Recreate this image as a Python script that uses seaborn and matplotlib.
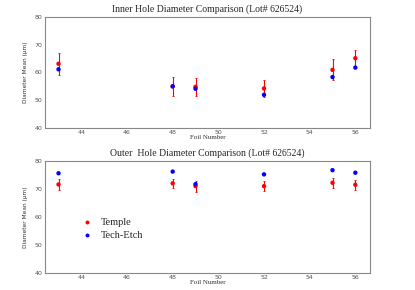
import pandas as pd
import matplotlib
matplotlib.use("Agg")
import matplotlib.pyplot as plt
from matplotlib.ticker import MultipleLocator
import seaborn as sns

# Valores
foils = [43, 48, 49, 52, 55, 56]
inner_temple = [63.1, 54.9, 54.8, 54.2, 60.9, 65.1]
inner_temple_err = [4.0, 3.4, 3.2, 3.0, 3.8, 3.0]
inner_tech = [61.1, 55.0, 54.1, 51.9, 58.3, 61.7]
outer_temple = [71.6, 72.0, 71.0, 71.0, 72.2, 71.5]
outer_temple_err = [2.1, 1.6, 2.0, 1.7, 1.8, 1.8]
outer_tech = [75.6, 76.2, 71.7, 75.2, 76.7, 75.8]

titles = ["Inner Hole Diameter Comparison (Lot# 626524)",
          "Outer  Hole Diameter Comparison (Lot# 626524)"]

sns.set_style("white")

fig = plt.figure(figsize=(4.15, 2.9), dpi=100)
ax1 = fig.add_axes([0.108, 0.559, 0.784, 0.383])
ax2 = fig.add_axes([0.108, 0.059, 0.784, 0.386])

paneles = [
    (ax1, inner_temple, inner_temple_err, inner_tech),
    (ax2, outer_temple, outer_temple_err, outer_tech),
]

for i, (ax, temple, temple_err, tech) in enumerate(paneles):
    df = pd.DataFrame({
        'foil': foils * 2,
        'mean': temple + tech,
        'source': ['Temple'] * len(foils) + ['Tech-Etch'] * len(foils),
    })
    ax.errorbar(foils, temple, yerr=temple_err, fmt='none', ecolor='red',
                elinewidth=0.8, capsize=1, capthick=0.6, zorder=2)
    sns.scatterplot(data=df, x='foil', y='mean', hue='source',
                    palette={'Temple': 'red', 'Tech-Etch': 'blue'},
                    s=10, edgecolor='none', ax=ax, zorder=3,
                    legend=(i == 1))
    ax.set_xlim(42.4, 56.65)
    ax.set_ylim(40, 80)
    ax.xaxis.set_major_locator(MultipleLocator(2))
    ax.xaxis.set_minor_locator(MultipleLocator(0.5))
    ax.yaxis.set_major_locator(MultipleLocator(10))
    ax.yaxis.set_minor_locator(MultipleLocator(2))
    ax.tick_params(which='both', direction='in', colors='#444', labelsize=4.5,
                   labelcolor='#555', width=0.6)
    ax.tick_params(which='major', length=6, pad=1.5)
    ax.tick_params(which='minor', length=3)
    for s in ax.spines.values():
        s.set_color('#888')
        s.set_linewidth(0.8)
    ax.set_title(titles[i], fontsize=7, family='Liberation Serif', pad=4)
    ax.set_xlabel('Foil Number', fontsize=5, family='Liberation Serif',
                  color='#333', labelpad=0)
    ax.set_ylabel('Diameter Mean (\u03bcm)', fontsize=4.2, color='#333',
                  labelpad=5)

leg = ax2.legend(loc='center left', bbox_to_anchor=(0.07, 0.39), frameon=False,
                 prop={'family': 'Liberation Serif', 'size': 7.5},
                 handletextpad=0.3, labelspacing=0.35, markerscale=0.9)

fig.savefig('out.png', dpi=100)
